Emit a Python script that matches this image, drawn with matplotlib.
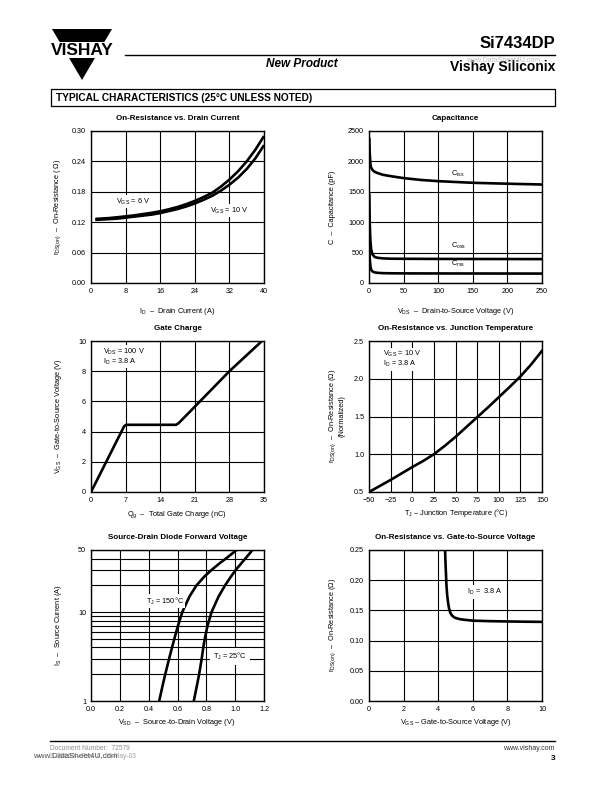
import matplotlib
matplotlib.use("Agg")
import matplotlib.pyplot as plt
from matplotlib.patches import Polygon, Rectangle
from matplotlib.lines import Line2D

plt.rcParams['font.family'] = ['Liberation Sans', 'DejaVu Sans']
plt.rcParams['mathtext.fontset'] = 'custom'
plt.rcParams['mathtext.rm'] = 'Liberation Sans'
plt.rcParams['mathtext.it'] = 'Liberation Sans:italic'
plt.rcParams['mathtext.bf'] = 'Liberation Sans:bold'

# ---------------- data ----------------
# 1. On-Resistance vs Drain Current
id_a = [1, 2, 4, 6, 8, 10, 12, 14, 16, 18, 20, 22, 24, 26, 28, 30, 32, 34, 36, 38, 40]
rds_6v = [0.1265, 0.127, 0.128, 0.1297, 0.1315, 0.1335, 0.136, 0.1385, 0.1415, 0.1455, 0.150,
          0.1555, 0.162, 0.1695, 0.178, 0.190, 0.204, 0.2205, 0.240, 0.263, 0.290]
rds_10v = [0.1245, 0.125, 0.126, 0.127, 0.129, 0.131, 0.133, 0.135, 0.138, 0.142, 0.146,
           0.151, 0.157, 0.164, 0.172, 0.182, 0.194, 0.208, 0.225, 0.246, 0.272]

# 2. Capacitance
ciss_v = [0.5, 1, 2, 3, 5, 8, 12, 20, 30, 50, 75, 100, 150, 200, 250]
ciss_c = [2370, 2150, 1960, 1900, 1860, 1830, 1810, 1780, 1760, 1725, 1695, 1675, 1648, 1633, 1620]
coss_v = [0.5, 1, 2, 3, 5, 8, 12, 20, 30, 50, 100, 150, 200, 250]
coss_c = [1450, 1000, 700, 560, 470, 430, 415, 405, 400, 398, 396, 395, 394, 393]
crss_v = [0.5, 1, 2, 3, 5, 8, 12, 20, 30, 50, 100, 250]
crss_c = [620, 420, 280, 220, 190, 175, 168, 162, 160, 158, 157, 155]

# 3. Gate Charge
qg = [0, 6.7, 7.1, 17.2, 17.7, 21, 28, 34.6]
vgs_q = [0, 4.35, 4.45, 4.45, 4.55, 5.65, 8.0, 10.0]

# 4. On-Resistance vs Junction Temperature
tj = [-50, -37.5, -25, -12.5, 0, 12.5, 25, 37.5, 50, 62.5, 75, 87.5, 100, 112.5, 125, 137.5, 150]
rds_norm = [0.50, 0.58, 0.66, 0.745, 0.83, 0.91, 1.00, 1.11, 1.23, 1.36, 1.49, 1.62, 1.755,
            1.89, 2.03, 2.19, 2.37]

# 5. Source-Drain Diode Forward Voltage
is_a = [1, 1.5, 2, 3, 4, 5, 7, 10, 15, 20, 25, 30, 35, 40, 45, 50]
vsd_150 = [0.473, 0.497, 0.515, 0.542, 0.562, 0.578, 0.603, 0.633, 0.683, 0.732, 0.785,
           0.838, 0.888, 0.935, 0.975, 1.01]
vsd_25 = [0.713, 0.735, 0.750, 0.768, 0.779, 0.789, 0.808, 0.836, 0.885, 0.930, 0.970,
          1.005, 1.040, 1.070, 1.097, 1.12]

# 6. On-Resistance vs Gate-to-Source Voltage
vgs = [4.40, 4.42, 4.45, 4.48, 4.52, 4.57, 4.63, 4.70, 4.80, 4.90, 5.0, 5.25, 5.5, 6, 7, 8, 9, 10]
rds_vgs = [0.25, 0.23, 0.21, 0.19, 0.175, 0.163, 0.153, 0.146, 0.1415, 0.139, 0.1375, 0.1355,
           0.1345, 0.133, 0.1322, 0.1317, 0.1313, 0.131]

W, H = 612, 792
fig = plt.figure(figsize=(W / 100, H / 100), dpi=100)


def F(x, y):
    return (x / W, 1 - y / H)


def make_ax(x0, y0, x1, y1):
    ax = fig.add_axes([x0 / W, 1 - y1 / H, (x1 - x0) / W, (y1 - y0) / H])
    ax.tick_params(length=0, labelsize=5.2, pad=3.5)
    for s in ax.spines.values():
        s.set_linewidth(1.0)
    ax.set_axisbelow(True)
    return ax


def grid(ax, which='major'):
    ax.grid(True, which=which, color='black', linewidth=0.8)


LW = 1.9
TFS = 5.8
LFS = 5.3
WB = dict(facecolor='white', edgecolor='none', pad=1.0)

cols = [(91, 264), (369, 542)]
rows = [(131, 283), (341, 492), (550, 701)]

# -------- Plot 1 --------
ax = make_ax(cols[0][0], rows[0][0], cols[0][1], rows[0][1])
ax.set_xlim(0, 40); ax.set_ylim(0, 0.30)
ax.set_xticks([0, 8, 16, 24, 32, 40])
ax.set_yticks([0, 0.06, 0.12, 0.18, 0.24, 0.30])
ax.set_yticklabels(['0.00', '0.06', '0.12', '0.18', '0.24', '0.30'])
grid(ax)
ax.plot(id_a, rds_6v, color='black', lw=LW, solid_capstyle='butt')
ax.plot(id_a, rds_10v, color='black', lw=LW, solid_capstyle='butt')
ax.text(5.8, 0.16, r'$\mathregular{V_{GS}}$ = 6 V', fontsize=LFS, va='center', bbox=WB)
ax.text(27.5, 0.143, r'$\mathregular{V_{GS}}$ = 10 V', fontsize=LFS, va='center', bbox=WB)
ax.set_title('On-Resistance vs. Drain Current', fontsize=TFS, fontweight='bold', pad=8)
fig.text(*F(177, 311), r'$\mathregular{I_D}$  –  Drain Current (A)', fontsize=LFS, ha='center', va='center')
fig.text(*F(58, 207), r'$\mathregular{r_{DS(on)}}$  –  On-Resistance ( Ω)', fontsize=LFS, ha='center', va='center', rotation=90)

# -------- Plot 2 --------
ax = make_ax(cols[1][0], rows[0][0], cols[1][1], rows[0][1])
ax.set_xlim(0, 250); ax.set_ylim(0, 2500)
ax.set_xticks(range(0, 251, 50)); ax.set_yticks(range(0, 2501, 500))
grid(ax)
ax.plot(ciss_v, ciss_c, color='black', lw=LW)
ax.plot(coss_v, coss_c, color='black', lw=LW)
ax.plot(crss_v, crss_c, color='black', lw=LW)
ax.text(118, 1790, r'$\mathregular{C_{iss}}$', fontsize=LFS, va='center')
ax.text(118, 612, r'$\mathregular{C_{oss}}$', fontsize=LFS, va='center')
ax.text(118, 318, r'$\mathregular{C_{rss}}$', fontsize=LFS, va='center')
ax.set_title('Capacitance', fontsize=TFS, fontweight='bold', pad=8)
fig.text(*F(456, 311), r'$\mathregular{V_{DS}}$  –  Drain-to-Source Voltage (V)', fontsize=LFS, ha='center', va='center')
fig.text(*F(333, 207), 'C  –  Capacitance (pF)', fontsize=LFS, ha='center', va='center', rotation=90)

# -------- Plot 3 --------
ax = make_ax(cols[0][0], rows[1][0], cols[0][1], rows[1][1])
ax.set_xlim(0, 35); ax.set_ylim(0, 10)
ax.set_xticks(range(0, 36, 7)); ax.set_yticks(range(0, 11, 2))
grid(ax)
ax.plot(qg, vgs_q, color='black', lw=LW)
ax.text(2.4, 8.95, r'$\mathregular{V_{DS}}$ = 100 V' + '\n' + r'$\mathregular{I_D}$ = 3.8 A',
        fontsize=LFS, va='center', linespacing=1.0, bbox=WB)
ax.set_title('Gate Charge', fontsize=TFS, fontweight='bold', pad=8)
fig.text(*F(177, 515), r'$\mathregular{Q_g}$  –  Total Gate Charge (nC)', fontsize=LFS, ha='center', va='center')
fig.text(*F(58, 416), r'$\mathregular{V_{GS}}$  –  Gate-to-Source Voltage (V)', fontsize=LFS, ha='center', va='center', rotation=90)

# -------- Plot 4 --------
ax = make_ax(cols[1][0], rows[1][0], cols[1][1], rows[1][1])
ax.set_xlim(-50, 150); ax.set_ylim(0.5, 2.5)
ax.set_xticks(range(-50, 151, 25))
ax.set_yticks([0.5, 1.0, 1.5, 2.0, 2.5])
ax.set_xticklabels(['−50', '−25', '0', '25', '50', '75', '100', '125', '150'])
grid(ax)
ax.plot(tj, rds_norm, color='black', lw=LW)
ax.text(-34, 2.26, r'$\mathregular{V_{GS}}$ = 10 V' + '\n' + r'$\mathregular{I_D}$ = 3.8 A',
        fontsize=LFS, va='center', linespacing=1.0, bbox=WB)
ax.set_title('On-Resistance vs. Junction Temperature', fontsize=TFS, fontweight='bold', pad=8)
fig.text(*F(456, 513), r'$\mathregular{T_J}$ – Junction Temperature (°C)', fontsize=LFS, ha='center', va='center')
fig.text(*F(333, 416), r'$\mathregular{r_{DS(on)}}$  –  On-Resistance (Ω)', fontsize=LFS, ha='center', va='center', rotation=90)
fig.text(*F(342, 416), '(Normalized)', fontsize=LFS, ha='center', va='center', rotation=90)

# -------- Plot 5 --------
ax = make_ax(cols[0][0], rows[2][0], cols[0][1], rows[2][1])
ax.set_yscale('log')
ax.set_xlim(0, 1.2); ax.set_ylim(1, 50)
ax.set_xticks([0, 0.2, 0.4, 0.6, 0.8, 1.0, 1.2])
ax.set_xticklabels(['0.0', '0.2', '0.4', '0.6', '0.8', '1.0', '1.2'])
ax.set_yticks([1, 10, 50]); ax.set_yticklabels(['1', '10', '50'])
ax.set_yticks([2, 3, 4, 5, 6, 7, 8, 9, 20, 30, 40], minor=True)
ax.yaxis.set_minor_formatter(matplotlib.ticker.NullFormatter())
ax.tick_params(which='minor', length=0)
ax.grid(True, which='both', axis='y', color='black', linewidth=0.8)
ax.grid(True, which='major', axis='x', color='black', linewidth=0.8)
ax.plot(vsd_150, is_a, color='black', lw=LW)
ax.plot(vsd_25, is_a, color='black', lw=LW)
ax.text(0.51, 13.2, r'$\mathregular{T_J}$ = 150°C', fontsize=LFS, ha='center', va='center', bbox=WB)
ax.text(0.965, 3.2, r'$\mathregular{T_J}$ = 25°C', fontsize=LFS, ha='center', va='center',
        bbox=dict(facecolor='white', edgecolor='none', pad=2.0))
ax.set_title('Source-Drain Diode Forward Voltage', fontsize=TFS, fontweight='bold', pad=8)
fig.text(*F(177, 722), r'$\mathregular{V_{SD}}$  –  Source-to-Drain Voltage (V)', fontsize=LFS, ha='center', va='center')
fig.text(*F(58, 625), r'$\mathregular{I_S}$  –  Source Current (A)', fontsize=LFS, ha='center', va='center', rotation=90)

# -------- Plot 6 --------
ax = make_ax(cols[1][0], rows[2][0], cols[1][1], rows[2][1])
ax.set_xlim(0, 10); ax.set_ylim(0, 0.25)
ax.set_xticks(range(0, 11, 2))
ax.set_yticks([0, 0.05, 0.10, 0.15, 0.20, 0.25])
ax.set_yticklabels(['0.00', '0.05', '0.10', '0.15', '0.20', '0.25'])
grid(ax)
ax.plot(vgs, rds_vgs, color='black', lw=LW)
ax.text(5.65, 0.181, r'$\mathregular{I_D}$ =  3.8 A', fontsize=LFS, va='center',
        bbox=dict(facecolor='white', edgecolor='none', pad=1.5))
ax.set_title('On-Resistance vs. Gate-to-Source Voltage', fontsize=TFS, fontweight='bold', pad=8)
fig.text(*F(456, 722), r'$\mathregular{V_{GS}}$ – Gate-to-Source Voltage (V)', fontsize=LFS, ha='center', va='center')
fig.text(*F(333, 625), r'$\mathregular{r_{DS(on)}}$  –  On-Resistance (Ω)', fontsize=LFS, ha='center', va='center', rotation=90)

# ---------------- page header ----------------
tri = Polygon([F(52, 29), F(112, 29), F(82, 80)], closed=True, transform=fig.transFigure,
              facecolor='black', edgecolor='none')
fig.add_artist(tri)
band = Rectangle(F(45, 58), 75 / W, 16 / H, transform=fig.transFigure, facecolor='white', edgecolor='none')
fig.add_artist(band)
fig.text(*F(82, 50.5), 'VISHAY', fontsize=12.5, fontweight='bold', ha='center', va='center')

fig.add_artist(Line2D([125 / W, 555 / W], [1 - 54.5 / H] * 2, transform=fig.transFigure, color='black', lw=1.0))
fig.text(*F(555, 43), 'Si7434DP', fontsize=12, fontweight='bold', ha='right', va='center')
fig.text(*F(555, 67), 'Vishay Siliconix', fontsize=10, fontweight='bold', ha='right', va='center')
fig.text(*F(503, 60), 'www.DataSheet4U.com', fontsize=5, color='#c0c0c0', ha='center', va='center')
fig.text(*F(302, 64), 'New Product', fontsize=8.5, fontweight='bold', fontstyle='italic', ha='center', va='center')

box = Rectangle(F(51, 106), 504 / W, 17 / H, transform=fig.transFigure, facecolor='white',
                edgecolor='black', lw=0.9)
fig.add_artist(box)
fig.text(*F(56, 98), 'TYPICAL CHARACTERISTICS (25°C UNLESS NOTED)', fontsize=7.3, fontweight='bold',
         ha='left', va='center')

# ---------------- footer ----------------
fig.add_artist(Line2D([50 / W, 555 / W], [1 - 741 / H] * 2, transform=fig.transFigure, color='black', lw=1.0))
fig.text(*F(50, 748), 'Document Number:  72579', fontsize=4.8, color='#909090', ha='left', va='center')
fig.text(*F(50, 757), 'S-31060—Rev. A, 26-May-03', fontsize=4.8, color='#a0a0a0', ha='left', va='center')
fig.text(*F(33, 757), 'www.DataSheet4U.com', fontsize=5.8, color='#505050', ha='left', va='center')
fig.text(*F(555, 748), 'www.vishay.com', fontsize=5, color='#303030', ha='right', va='center')
fig.text(*F(555, 759), '3', fontsize=6, fontweight='bold', ha='right', va='center')

fig.savefig('out.png', dpi=100)
